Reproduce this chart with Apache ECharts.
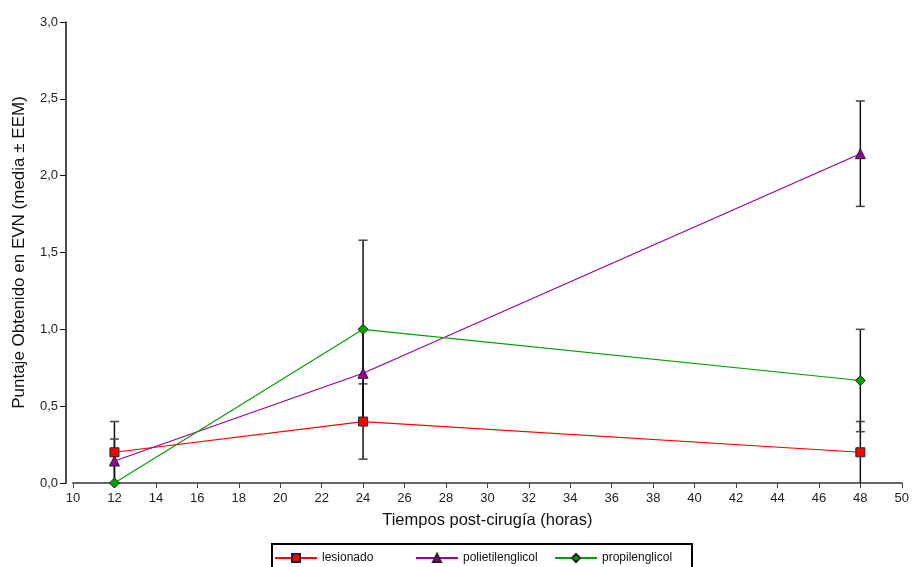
<!DOCTYPE html>
<html>
<head>
<meta charset="utf-8">
<script src="https://cdn.jsdelivr.net/npm/echarts@6/dist/echarts.min.js"></script>
<style>
html,body{margin:0;padding:0;background:#fff;}
#chart{width:912px;height:567px;}
</style>
</head>
<body>
<div id="chart"></div>
<script>
const hours = [12, 24, 48];
const seriesNames = ['lesionado', 'polietilenglicol', 'propilenglicol'];
const lesionado = [0.2, 0.4, 0.2];
const lesionadoErr = [0.2, 0.245, 0.2];
const polietilenglicol = [0.143, 0.714, 2.143];
const polietilenglicolErr = [0.143, 0.29, 0.343];
const propilenglicol = [0, 1.0, 0.667];
const propilenglicolErr = [0, 0.58, 0.333];
const xTicks = [10,12,14,16,18,20,22,24,26,28,30,32,34,36,38,40,42,44,46,48,50];
const yTicks = [0, 0.5, 1.0, 1.5, 2.0, 2.5, 3.0];

const chart = echarts.init(document.getElementById('chart'), null, {renderer: 'canvas'});
const font = '"Liberation Sans", Arial, sans-serif';

function errData(vals, errs) {
  return hours.map((h, i) => [h, Math.max(0, vals[i] - errs[i]), vals[i] + errs[i]]);
}
function errSeries(vals, errs) {
  return {
    type: 'custom',
    silent: true,
    z: 1,
    renderItem: function (params, api) {
      const x = api.value(0);
      const lo = api.coord([x, api.value(1)]);
      const hi = api.coord([x, api.value(2)]);
      const capHalf = 4.5;
      const children = [
        {type: 'line', shape: {x1: lo[0], y1: lo[1], x2: hi[0], y2: hi[1]}, style: {stroke: '#111', lineWidth: 1.5}}
      ];
      if (api.value(2) > api.value(1)) {
        children.push({type: 'line', shape: {x1: hi[0] - capHalf, y1: hi[1], x2: hi[0] + capHalf, y2: hi[1]}, style: {stroke: '#444', lineWidth: 1.5}});
        if (api.value(1) > 0) {
          children.push({type: 'line', shape: {x1: lo[0] - capHalf, y1: lo[1], x2: lo[0] + capHalf, y2: lo[1]}, style: {stroke: '#444', lineWidth: 1.5}});
        }
      }
      return {type: 'group', children: children};
    },
    data: errData(vals, errs)
  };
}
function lineSeries(name, vals, color, symbol, size) {
  return {
    name: name,
    type: 'line',
    z: 3,
    data: hours.map((h, i) => [h, vals[i]]),
    symbol: symbol,
    symbolSize: size,
    showAllSymbol: true,
    lineStyle: {color: color, width: 1.2},
    itemStyle: {color: color, borderColor: '#222', borderWidth: 1},
    emphasis: {disabled: true},
    animation: false
  };
}
function legendAt(name, left) {
  return {
    data: [name],
    left: left, top: 552,
    itemWidth: 42, itemHeight: 10,
    padding: 0,
    textStyle: {fontSize: 12, color: '#111', fontFamily: font},
    selectedMode: false
  };
}

const option = {
  animation: false,
  backgroundColor: '#fff',
  textStyle: {fontFamily: font},
  grid: {left: 73, right: 7, top: 22, bottom: 84, containLabel: false},
  xAxis: {
    type: 'value',
    min: 10, max: 50, interval: 2,
    name: 'Tiempos post-cirugía (horas)',
    nameLocation: 'middle',
    nameGap: 29,
    nameTextStyle: {fontSize: 16.5, color: '#111', fontFamily: font},
    axisLine: {show: true, lineStyle: {color: '#666', width: 2}},
    axisTick: {show: true, length: 5, lineStyle: {color: '#444', width: 1}},
    axisLabel: {fontSize: 13, color: '#222', margin: 9, fontFamily: font},
    splitLine: {show: false}
  },
  yAxis: {
    type: 'value',
    min: 0, max: 3, interval: 0.5,
    offset: 7,
    name: 'Puntaje Obtenido en EVN (media ± EEM)',
    nameLocation: 'middle',
    nameGap: 38,
    nameRotate: 90,
    nameTextStyle: {fontSize: 17, color: '#111', fontFamily: font},
    axisLine: {show: true, onZero: false, lineStyle: {color: '#111', width: 1.5}},
    axisTick: {show: true, length: 6, lineStyle: {color: '#111', width: 1}},
    axisLabel: {fontSize: 13, color: '#222', margin: 8, fontFamily: font,
      formatter: v => v.toFixed(1).replace('.', ',')},
    splitLine: {show: false}
  },
  legend: [
    legendAt(seriesNames[0], 274),
    legendAt(seriesNames[1], 415),
    legendAt(seriesNames[2], 554)
  ],
  graphic: [{
    type: 'rect',
    shape: {x: 272, y: 544, width: 420, height: 40},
    style: {fill: 'none', stroke: '#000', lineWidth: 2},
    silent: true
  }],
  series: [
    errSeries(lesionado, lesionadoErr),
    errSeries(polietilenglicol, polietilenglicolErr),
    errSeries(propilenglicol, propilenglicolErr),
    lineSeries('lesionado', lesionado, '#ff0000', 'rect', 9),
    lineSeries('polietilenglicol', polietilenglicol, '#990099', 'triangle', 10),
    lineSeries('propilenglicol', propilenglicol, '#00a000', 'diamond', 10)
  ]
};
chart.setOption(option);
</script>
</body>
</html>
